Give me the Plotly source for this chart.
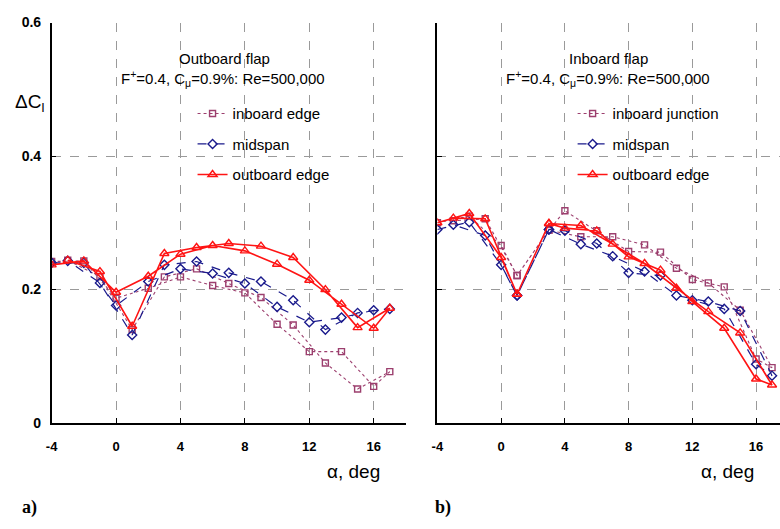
import plotly.graph_objects as go

# ---- Outboard flap (panel a): angle of attack and lift increment ----
alpha_a = [-4, -3, -2, -1, 0, 1, 2, 3, 4, 5, 6, 7, 8, 9, 10, 11, 12, 13, 14, 15, 16, 17]
a_inboard_edge = [0.242, 0.244, 0.243, 0.219, 0.187, 0.140, 0.202, 0.219, 0.219, 0.231, 0.206,
                  0.209, 0.195, 0.188, 0.148, 0.147, 0.107, 0.090, 0.107, 0.051, 0.055, 0.077]
a_midspan = [0.240, 0.243, 0.240, 0.210, 0.176, 0.132, 0.212, 0.237, 0.231, 0.242, 0.224,
             0.225, 0.209, 0.212, 0.174, 0.184, 0.151, 0.140, 0.158, 0.165, 0.169, 0.171]
a_outboard_edge = [0.237, 0.244, 0.243, 0.227, 0.196, 0.145, 0.220, 0.254, 0.253, 0.263, 0.266,
                   0.269, 0.258, 0.265, 0.238, 0.248, 0.214, 0.200, 0.178, 0.143, 0.142, 0.172]
# sweep order: even angles going up, odd angles coming back down
sweep_a = [-4, -2, 0, 2, 4, 6, 8, 10, 12, 14, 16, 17, 15, 13, 11, 9, 7, 5, 3, 1, -1, -3]

# ---- Inboard flap (panel b) ----
alpha_b = [-4, -3, -2, -1, 0, 1, 3, 4, 5, 6, 7, 8, 9, 10, 11, 12, 13, 14, 15, 16, 17]
b_inboard_junction = [0.300, 0.303, 0.310, 0.306, 0.266, 0.221, 0.289, 0.318, 0.279, 0.288, 0.279,
                      0.257, 0.267, 0.256, 0.232, 0.215, 0.210, 0.204, 0.169, 0.096, 0.083]
b_midspan = [0.290, 0.297, 0.301, 0.281, 0.237, 0.191, 0.290, 0.288, 0.268, 0.269, 0.250,
             0.225, 0.227, 0.221, 0.191, 0.184, 0.182, 0.171, 0.168, 0.088, 0.071]
b_outboard_edge = [0.300, 0.307, 0.314, 0.306, 0.248, 0.193, 0.299, 0.292, 0.296, 0.288, 0.268,
                   0.249, 0.239, 0.229, 0.202, 0.182, 0.167, 0.142, 0.135, 0.066, 0.057]
sweep_b = [-4, -2, 0, 1, 3, 5, 7, 9, 11, 13, 15, 17, 16, 14, 12, 10, 8, 6, 4, 3, 1, -1, -3]

x_ticks = [-4, 0, 4, 8, 12, 16]
x_ticktext = ["-4", "0", "4", "8", "12", "16"]
y_ticks = [0, 0.2, 0.4, 0.6]
y_ticktext = ["0", "0.2", "0.4", "0.6"]

W, H = 780, 529
FONT = "Liberation Sans"
MAGENTA = "#9c3f6e"
NAVY = "#1a1a8c"
RED = "#ff1414"


def ordered(alpha, values, sweep):
    lookup = dict(zip(alpha, values))
    return sweep, [lookup[a] for a in sweep]


series_style = {
    "inboard": dict(color=MAGENTA, dash="dot", width=1.1, symbol="square-open", size=6),
    "mid": dict(color=NAVY, dash="dash", width=1.2, symbol="diamond-open", size=7),
    "out": dict(color=RED, dash="solid", width=1.6, symbol="triangle-up-open", size=8),
}

fig = go.Figure()


def add_series(alpha, values, sweep, name, style_key, xa, ya, legend):
    st = series_style[style_key]
    xs, ys = ordered(alpha, values, sweep)
    fig.add_trace(go.Scatter(
        x=xs, y=ys, name=name, mode="lines+markers",
        line=dict(color=st["color"], dash=st["dash"], width=st["width"]),
        marker=dict(symbol=st["symbol"], size=st["size"], color=st["color"],
                    line=dict(color=st["color"], width=1.4)),
        xaxis=xa, yaxis=ya, legend=legend, legendgroup=legend + name,
    ))


add_series(alpha_a, a_inboard_edge, sweep_a, "inboard edge", "inboard", "x", "y", "legend")
add_series(alpha_a, a_midspan, sweep_a, "midspan", "mid", "x", "y", "legend")
add_series(alpha_a, a_outboard_edge, sweep_a, "outboard edge", "out", "x", "y", "legend")

add_series(alpha_b, b_inboard_junction, sweep_b, "inboard junction", "inboard", "x2", "y2", "legend2")
add_series(alpha_b, b_midspan, sweep_b, "midspan", "mid", "x2", "y2", "legend2")
add_series(alpha_b, b_outboard_edge, sweep_b, "outboard edge", "out", "x2", "y2", "legend2")

y_dom = [(H - 428) / H, (H - 15) / H]
grid = dict(showgrid=True, gridcolor="#9a9a9a", griddash="dash", gridwidth=1)
xcommon = dict(tickvals=x_ticks, ticktext=x_ticktext, ticks="inside", ticklen=5, tickcolor="black",
               showline=True, linecolor="black", linewidth=1.5, zeroline=False,
               tickfont=dict(family=FONT, size=13, color="black", weight="bold"),
               ticklabelstandoff=11, **grid)
ycommon = dict(range=[0, 0.6], tickvals=y_ticks, ticktext=y_ticktext, ticks="inside",
               ticklen=5, tickcolor="black", showline=True, linecolor="black", linewidth=1.5,
               zeroline=False, domain=y_dom,
               tickfont=dict(family=FONT, size=14, color="black", weight="bold"),
               ticklabelstandoff=6, **grid)

legend_common = dict(font=dict(family=FONT, size=15, color="black"), bgcolor="rgba(0,0,0,0)",
                     tracegroupgap=8, itemwidth=30, xanchor="left", yanchor="top",
                     traceorder="grouped")

fig.update_layout(
    width=W, height=H,
    margin=dict(l=0, r=0, t=0, b=0),
    paper_bgcolor="white", plot_bgcolor="white",
    showlegend=True,
    xaxis=dict(domain=[46 / W, 403 / W], range=[-4, 18], anchor="y", **xcommon),
    yaxis=dict(anchor="x", **ycommon),
    xaxis2=dict(domain=[434.75 / W, 1.0], range=[-4, 17.5], anchor="y2", **xcommon),
    yaxis2=dict(anchor="x2", showticklabels=False, **ycommon),
    legend=dict(x=188 / W, y=1 - 92 / H, **legend_common),
    legend2=dict(x=571 / W, y=1 - 92 / H, **legend_common),
)

ann_font = dict(family=FONT, size=15, color="black")
notes = [
    ("Outboard flap", 220, 52, ann_font),
    ("F<sup>+</sup>=0.4, C<sub>\u03bc</sub>=0.9%: Re=500,000", 219, 73, ann_font),
    ("Inboard flap", 607, 52, ann_font),
    ("F<sup>+</sup>=0.4, C<sub>\u03bc</sub>=0.9%: Re=500,000", 607, 73, ann_font),
    ("\u0394C<sub>l</sub>", 24, 98, dict(family=FONT, size=19, color="black")),
    ("\u03b1, deg", 350, 478, dict(family=FONT, size=19, color="black")),
    ("\u03b1, deg", 727, 478, dict(family=FONT, size=19, color="black")),
    ("<b>a)</b>", 24, 515, dict(family="Liberation Serif", size=18, color="black")),
    ("<b>b)</b>", 440, 515, dict(family="Liberation Serif", size=18, color="black")),
]
for text, px, py, f in notes:
    fig.add_annotation(text=text, x=px / W, y=1 - py / H, xref="paper", yref="paper",
                       xanchor="center", yanchor="middle", showarrow=False, font=f)

fig.write_html("out.html")
